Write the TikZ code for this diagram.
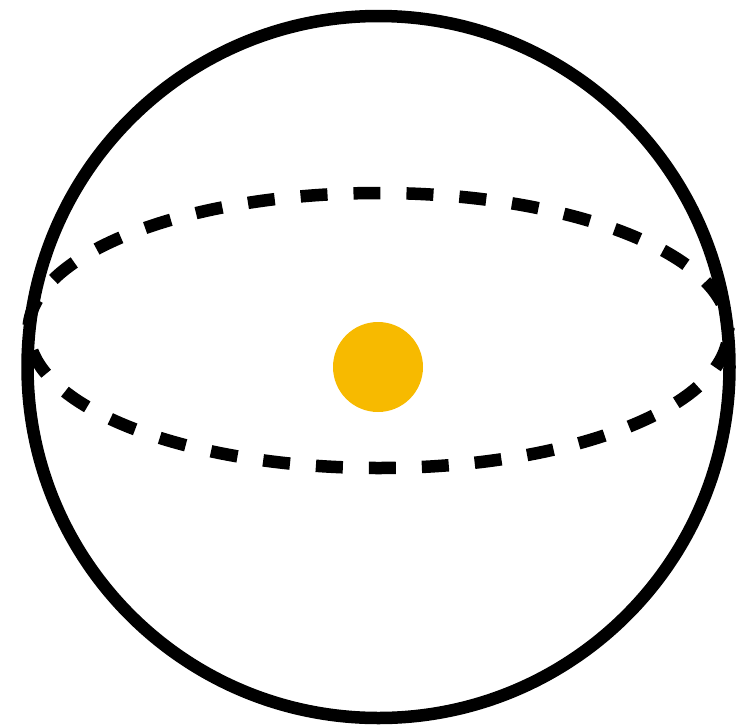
\documentclass[tikz,border=0pt]{standalone}
\definecolor{dotorange}{HTML}{F7BA00}
\tikzset{
  sphereline/.style={line width=12.5pt, draw=black},
  equator/.style={line width=12.5pt, draw=black, dash pattern=on 27pt off 26pt, dash phase=40pt},
  centerdot/.style={circle, fill=dotorange, minimum size=90pt, inner sep=0pt, draw=none}
}
\begin{document}
\begin{tikzpicture}[x=1pt,y=-1pt]
\useasboundingbox (0,0) rectangle (747,726);
\coordinate (c) at (378.5,367);
\coordinate (e) at (378.5,330.5);
\draw[sphereline] (c) circle [radius=351];
\draw[equator] (e) ellipse [x radius=350, y radius=137.5];
\node[centerdot] (dot) at (378,367) {};
\end{tikzpicture}
\end{document}
